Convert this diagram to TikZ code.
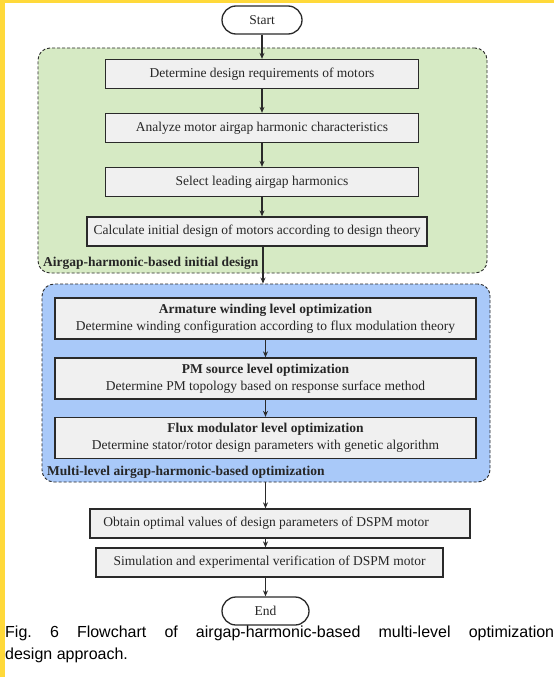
\documentclass[tikz,border=0pt]{standalone}
\usepackage{fontspec}
\setmainfont{Liberation Serif}
\newfontfamily\capfont{Liberation Sans}
\usetikzlibrary{arrows.meta}
\frenchspacing
\definecolor{hlyellow}{HTML}{FFD93A}
\definecolor{greenfill}{HTML}{D6EAC4}
\definecolor{bluefill}{HTML}{A9C9F9}
\definecolor{boxfill}{HTML}{F0F0F0}
\definecolor{edge}{HTML}{2A2A2A}
\begin{document}
\begin{tikzpicture}[x=1pt,y=-1pt,
  every node/.style={font=\fontsize{13.5}{17}\selectfont, text=black!85},
  procbox/.style={draw=edge, line width=1.3pt, fill=boxfill, rectangle, minimum height=29pt, inner sep=0pt, align=center},
  twobox/.style={procbox, minimum height=41pt, minimum width=421pt},
  termbox/.style={draw=edge, line width=1.3pt, fill=white, rectangle, rounded corners=14pt, minimum height=28pt, inner sep=0pt},
  groupbox/.style={draw=edge, line width=0.9pt, dash pattern=on 3pt off 2pt, rectangle, rounded corners=12pt, inner sep=0pt},
  grouplabel/.style={font=\bfseries\fontsize{13.5}{17}\selectfont, anchor=base west, inner sep=0pt},
  arr/.style={draw=edge, line width=1.2pt, -{Stealth[length=6pt,width=5pt]}}
]
\useasboundingbox (0,0) rectangle (554,677);
\fill[white] (0,0) rectangle (554,677);
% highlight bars
\fill[hlyellow] (0,0) rectangle (554,3);
\fill[hlyellow] (0,0) rectangle (5,677);

% group containers
\node[groupbox, fill=greenfill, minimum width=449pt, minimum height=225pt] (g1) at (262.5,160.5) {};
\node[groupbox, fill=bluefill, minimum width=448pt, minimum height=198pt] (g2) at (266,383) {};
\node[grouplabel] (g1lab) at (43,266) {Airgap-harmonic-based initial design};
\node[grouplabel] (g2lab) at (47,475) {Multi-level airgap-harmonic-based optimization};

% terminals
\node[termbox, minimum width=80pt] (start) at (262,20) {Start};
\node[termbox, minimum width=87pt] (end) at (265.5,611) {End};

% first group steps
\node[procbox, minimum width=313pt] (b1) at (262,74) {Determine design requirements of motors};
\node[procbox, minimum width=313pt] (b2) at (262,128) {Analyze motor airgap harmonic characteristics};
\node[procbox, minimum width=313pt] (b3) at (262,182) {Select leading airgap harmonics};
\node[procbox, minimum width=340pt] (b4) at (257,231.5) {Calculate initial design of motors according to design theory};

% second group steps
\node[twobox] (o1) at (265.5,318.5) {\textbf{Armature winding level optimization}\\Determine winding configuration according to flux modulation theory};
\node[twobox] (o2) at (265.5,378.5) {\textbf{PM source level optimization}\\Determine PM topology based on response surface method};
\node[twobox] (o3) at (265.5,438) {\textbf{Flux modulator level optimization}\\Determine stator/rotor design parameters with genetic algorithm};

% final steps
\node[procbox, minimum width=380pt] (d1) at (280,523.5) {Obtain optimal values of design parameters of DSPM motor\hspace*{28pt}};
\node[procbox, minimum width=347pt] (d2) at (269.5,562.5) {Simulation and experimental verification of DSPM motor};

% connectors
\draw[arr] (start) -- (b1);
\draw[arr] (b1) -- (b2);
\draw[arr] (b2) -- (b3);
\draw[arr] (b3.south) -- (b3.south |- b4.north);
\coordinate (c4) at ([xshift=6pt]b4.south);
\draw[arr] (c4) -- (c4 |- g2.north);
\draw[arr] (o1) -- (o2);
\draw[arr] (o2) -- (o3);
\coordinate (c5) at ([xshift=-0.5pt]g2.south);
\draw[arr] (c5) -- (c5 |- d1.north);
\coordinate (c6) at (d2.south -| end);
\draw[arr] (c5 |- d1.south) -- (c5 |- d2.north);
\draw[arr] (c6) -- (end);

% caption
\node[font=\capfont\fontsize{16}{22}\selectfont, anchor=north west, text width=549pt, align=justify, inner sep=0pt, text=black] (cap) at (5,626)
  {\hyphenpenalty=10000 Fig. 6 Flowchart of airgap-harmonic-based multi-level optimization\linebreak design approach.};
\end{tikzpicture}
\end{document}
